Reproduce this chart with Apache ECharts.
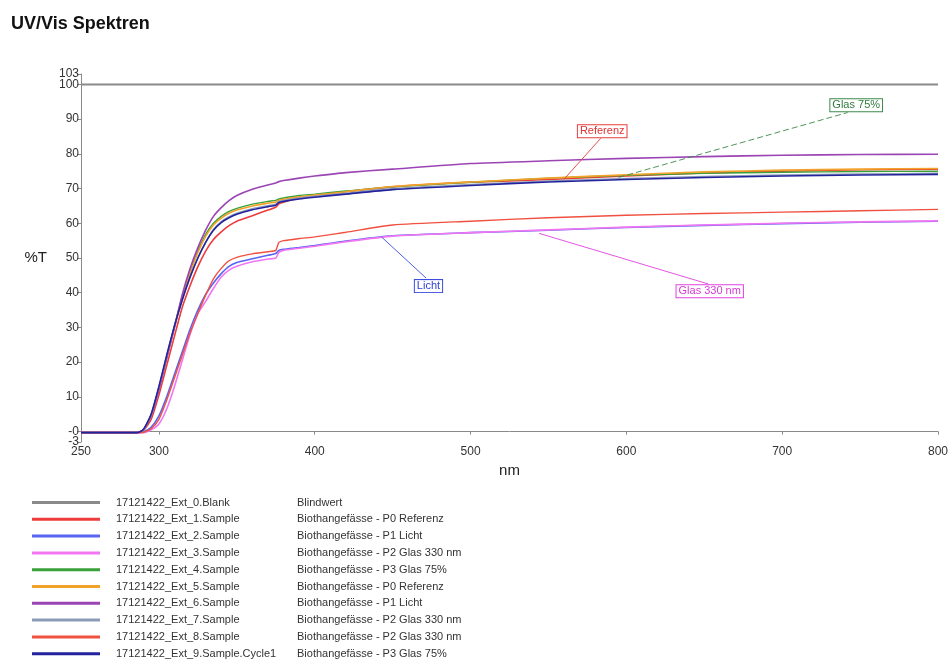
<!DOCTYPE html>
<html>
<head>
<meta charset="utf-8">
<script src="https://cdn.jsdelivr.net/npm/echarts@6/dist/echarts.min.js"></script>
<style>
html,body{margin:0;padding:0;background:#fff;}
#chart{width:951px;height:659px;}
</style>
</head>
<body>
<div id="chart"></div>
<script>
// ---- data ----
const wavelengths = [250, 286, 290, 295, 300, 305, 310, 315, 320, 325, 330, 335, 340, 345, 350, 360, 370, 375, 377, 380, 390, 400, 420, 450, 500, 550, 600, 650, 700, 750, 800];

const seriesNames = [
  '17121422_Ext_0.Blank',
  '17121422_Ext_1.Sample',
  '17121422_Ext_2.Sample',
  '17121422_Ext_3.Sample',
  '17121422_Ext_4.Sample',
  '17121422_Ext_5.Sample',
  '17121422_Ext_6.Sample',
  '17121422_Ext_7.Sample',
  '17121422_Ext_8.Sample',
  '17121422_Ext_9.Sample.Cycle1'
];
const seriesDescriptions = [
  'Blindwert',
  'Biothangefässe - P0 Referenz',
  'Biothangefässe - P1 Licht',
  'Biothangefässe - P2 Glas 330 nm',
  'Biothangefässe - P3 Glas 75%',
  'Biothangefässe - P0 Referenz',
  'Biothangefässe - P1 Licht',
  'Biothangefässe - P2 Glas 330 nm',
  'Biothangefässe - P2 Glas 330 nm',
  'Biothangefässe - P3 Glas 75%'
];

const blank0   = [100,100,100,100,100,100,100,100,100,100,100,100,100,100,100,100,100,100,100,100,100,100,100,100,100,100,100,100,100,100,100];
const sample1  = [-0.3,-0.3,0.3,3.5,10.5,19,27.5,35.8,42,47.5,52,55.3,57.5,59.3,60.6,62.2,63.8,64.6,65.6,66.1,67.2,67.9,69.1,70.5,71.8,72.6,73.6,74.5,75,75.4,75.6];
const sample2  = [-0.3,-0.3,-0.1,1.2,4.5,10,16.5,23,29.5,35,39.5,42.8,45.5,47.6,48.7,49.8,50.8,51.3,52.2,52.5,53,53.6,54.9,56.4,57.3,58,58.8,59.4,59.9,60.3,60.6];
const sample3  = [-0.3,-0.3,-0.3,0.5,2.2,6.5,13,20.5,28,34,37.5,41.2,44.5,46.5,47.6,48.9,49.7,50,51.6,52.2,52.8,53.4,54.7,56.3,57.3,58.1,58.9,59.5,60,60.4,60.7];
const sample4  = [-0.3,-0.3,0.5,4.8,12.5,21.5,30.5,39,46,52,56.8,60,62,63.4,64.3,65.5,66.3,66.6,67,67.3,68,68.4,69.3,70.5,71.8,73,73.8,74.4,74.7,74.9,75];
const sample5  = [-0.3,-0.3,0.5,4.6,12.2,21,30,38.5,45.5,51.5,56.2,59.5,61.5,62.9,63.8,65,65.8,66.1,66.6,66.9,67.6,68.1,69.1,70.6,71.9,73,74,74.8,75.3,75.6,75.8];
const sample6  = [-0.3,-0.3,0.5,4.5,12,21,30,39.5,47,53,58,62,64.5,66.5,68,69.8,71,71.6,72,72.3,73,73.6,74.6,75.6,77.2,78,78.7,79.2,79.6,79.8,79.9];
const sample7  = [-0.3,-0.3,0.5,4.8,12.8,21.8,30.3,37.8,44.3,50,54.5,58.2,60.5,61.9,62.9,64.2,65.1,65.5,66.3,66.6,67.3,67.8,68.7,70,71.2,72.2,72.9,73.5,73.9,74.2,74.4];
const sample8  = [-0.3,-0.3,-0.2,0.8,3.5,9,15.5,22,28.5,34,39.3,44,47,49.2,50.2,51.2,51.8,52.2,54.5,55,55.6,56.1,57.4,59.5,60.6,61.6,62.3,62.8,63.2,63.6,64];
const sample9  = [-0.3,-0.3,0.6,5,13,22,30.5,38,44.5,50,54.5,58,60.2,61.6,62.6,63.9,64.8,65.2,66,66.3,67,67.5,68.4,69.7,70.9,71.9,72.6,73.2,73.6,73.9,74.1];

const seriesValues = [blank0, sample1, sample2, sample3, sample4, sample5, sample6, sample7, sample8, sample9];

// y ticks: main axis and an overlay axis for the two labels that sit close to the ends
const yTickValues = [-3, 10, 20, 30, 40, 50, 60, 70, 80, 90, 103];
const yTickLabels = ['-3', '10', '20', '30', '40', '50', '60', '70', '80', '90', '103'];
const yInnerTickValues = [0, 100];
const yInnerTickLabels = ['-0', '100'];
const xTickValues = [250, 300, 400, 500, 600, 700, 800];

// annotations: series index, text, curve point, leader end, box centre
const annoSeries = [1, 4, 2, 3];
const annoText = ['Referenz', 'Glas 75%', 'Licht', 'Glas 330 nm'];
const annoFrom = [[560, 72.7], [595, 73.2], [443, 56.0], [544, 57.1]];
const annoTo = [[583.6, 84.5], [742, 91.9], [471.5, 44.2], [652.7, 42.5]];
const annoBox = [[584.5, 86.5], [747.5, 94.0], [473, 41.9], [653.5, 40.4]];

// ---- styles ----
const colors = ['#8a8a8a', '#ee3b3b', '#5865f0', '#f276f2', '#3aa03a', '#f2a22a', '#9b45b5', '#8c9cb6', '#f0503f', '#23239e'];
const widths = [2, 1.6, 1.6, 1.6, 1.4, 1.6, 1.6, 1.4, 1.4, 1.6];
const annoColors = ['#e63c3c', '#3d8a4a', '#3c4de0', '#e040e0'];
const annoTextColors = ['#e03232', '#2f7a3c', '#3040d8', '#d838d8'];
const annoDashed = [false, true, false, false];

const font = '"Liberation Sans", Arial, sans-serif';

const series = seriesNames.map((name, i) => {
  const s = {
    name: name,
    type: 'line',
    data: wavelengths.map((w, k) => [w, seriesValues[i][k]]),
    showSymbol: false,
    symbol: 'none',
    smooth: i === 0 ? false : 0.2,
    lineStyle: { color: colors[i], width: widths[i] },
    itemStyle: { color: colors[i] },
    z: i === 0 ? 1 : 2 + i,
    silent: true
  };
  const a = annoSeries.indexOf(i);
  if (a >= 0) {
    s.markLine = {
      silent: true,
      symbol: ['none', 'none'],
      label: { show: false },
      lineStyle: { color: annoColors[a], width: 1, type: annoDashed[a] ? [6, 3] : 'solid', opacity: 0.9 },
      data: [[{ coord: annoFrom[a] }, { coord: annoTo[a] }]],
      z: 20
    };
    s.markPoint = {
      silent: true,
      symbol: 'rect',
      symbolSize: 1,
      itemStyle: { color: 'rgba(0,0,0,0)' },
      data: [{ coord: annoBox[a] }],
      label: {
        show: true,
        position: 'inside',
        formatter: annoText[a],
        color: annoTextColors[a],
        fontFamily: font,
        fontSize: 11,
        backgroundColor: '#ffffff',
        borderColor: annoColors[a],
        borderWidth: 1,
        padding: [1, 2, 0, 2]
      },
      z: 21
    };
  }
  return s;
});

const descByName = {};
seriesNames.forEach((n, i) => { descByName[n] = seriesDescriptions[i]; });

const yLabelStyle = { fontFamily: font, fontSize: 12, color: '#333', margin: 2, showMinLabel: true, showMaxLabel: true, hideOverlap: false };

const chart = echarts.init(document.getElementById('chart'), null, { renderer: 'canvas' });
chart.setOption({
  animation: false,
  backgroundColor: '#ffffff',
  title: {
    text: 'UV/Vis Spektren',
    left: 6,
    top: 10,
    textStyle: { fontFamily: font, fontSize: 18, fontWeight: 'bold', color: '#111' }
  },
  grid: { left: 81, right: 11, top: 74, bottom: 217, containLabel: false },
  xAxis: {
    type: 'value',
    min: 250,
    max: 800,
    name: 'nm',
    nameLocation: 'middle',
    nameGap: 18,
    nameTextStyle: { fontFamily: font, fontSize: 15, color: '#222' },
    axisLine: { show: true, lineStyle: { color: '#8a8a8a', width: 1 } },
    axisTick: { show: true, length: 3, customValues: xTickValues, lineStyle: { color: '#8a8a8a' } },
    axisLabel: { customValues: xTickValues, showMinLabel: true, showMaxLabel: true, hideOverlap: false, fontFamily: font, fontSize: 12, color: '#333', margin: 4 },
    splitLine: { show: false }
  },
  yAxis: [{
    type: 'value',
    min: -3,
    max: 103,
    name: '%T',
    nameLocation: 'middle',
    nameRotate: 0,
    nameGap: 34,
    nameTextStyle: { fontFamily: font, fontSize: 15, color: '#222' },
    axisLine: { show: true, lineStyle: { color: '#8a8a8a', width: 1 } },
    axisTick: { show: true, length: 4, customValues: yTickValues, lineStyle: { color: '#8a8a8a' } },
    axisLabel: Object.assign({
      customValues: yTickValues,
      formatter: v => yTickLabels[yTickValues.indexOf(v)] ?? String(v)
    }, yLabelStyle),
    splitLine: { show: false }
  }, {
    type: 'value',
    min: -3,
    max: 103,
    position: 'left',
    offset: 0,
    axisLine: { show: false },
    axisTick: { show: true, length: 4, customValues: yInnerTickValues, lineStyle: { color: '#8a8a8a' } },
    axisLabel: Object.assign({
      customValues: yInnerTickValues,
      formatter: v => yInnerTickLabels[yInnerTickValues.indexOf(v)] ?? String(v)
    }, yLabelStyle),
    splitLine: { show: false }
  }],
  legend: {
    orient: 'vertical',
    left: 32,
    top: 497,
    height: 200,
    padding: 0,
    itemWidth: 68,
    itemHeight: 3,
    itemGap: 5.8,
    icon: 'rect',
    selectedMode: false,
    data: seriesNames,
    formatter: name => '{a|' + name + '}{b|' + descByName[name] + '}',
    textStyle: {
      fontFamily: font, fontSize: 11, color: '#333',
      rich: {
        a: { fontFamily: font, fontSize: 11, color: '#333', width: 181, padding: [0, 0, 0, 11] },
        b: { fontFamily: font, fontSize: 11, color: '#333' }
      }
    }
  },
  series: series
});
</script>
</body>
</html>
